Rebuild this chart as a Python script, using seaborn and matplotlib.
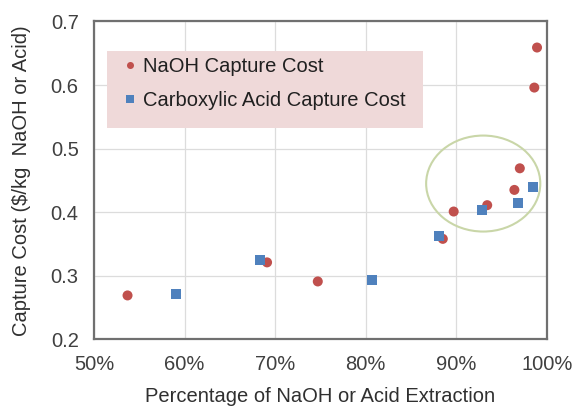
import matplotlib
matplotlib.use("Agg")
import matplotlib.pyplot as plt
from matplotlib.patches import Ellipse, Rectangle
from matplotlib.ticker import FuncFormatter
import seaborn as sns
import pandas as pd

# Extraction percentage and capture cost ($/kg) for each process
naoh_extraction = [53.7, 69.1, 74.7, 88.5, 89.7, 93.4, 96.4, 97.0, 98.6, 98.9]
naoh_cost = [0.269, 0.321, 0.291, 0.358, 0.401, 0.411, 0.435, 0.469, 0.596, 0.659]

acid_extraction = [59.1, 68.3, 80.7, 88.1, 92.8, 96.8, 98.5]
acid_cost = [0.272, 0.324, 0.294, 0.362, 0.403, 0.414, 0.439]

series_names = ["NaOH Capture Cost", "Carboxylic Acid Capture Cost"]
x_ticks = [50, 60, 70, 80, 90, 100]
y_ticks = [0.2, 0.3, 0.4, 0.5, 0.6, 0.7]

df = pd.concat([
    pd.DataFrame({"extraction": naoh_extraction, "cost": naoh_cost, "series": series_names[0]}),
    pd.DataFrame({"extraction": acid_extraction, "cost": acid_cost, "series": series_names[1]}),
], ignore_index=True)

sns.set_theme(style="white")
plt.rcParams["font.family"] = ["Liberation Sans", "DejaVu Sans"]
FS = 14.5

fig = plt.figure(figsize=(5.75, 4.08), dpi=100)
ax = fig.add_axes([0.1635, 0.1684, 0.7878, 0.779])

palette = {series_names[0]: "#C0504D", series_names[1]: "#4F81BD"}
markers = {series_names[0]: "o", series_names[1]: "s"}
sns.scatterplot(data=df, x="extraction", y="cost", hue="series", style="series",
                palette=palette, markers=markers, s=52, linewidth=0,
                ax=ax, zorder=3)

ax.set_xlim(50, 100)
ax.set_ylim(0.2, 0.7)
ax.set_xticks(x_ticks)
ax.set_yticks(y_ticks)
ax.xaxis.set_major_formatter(FuncFormatter(lambda v, p: f"{v:.0f}%"))
ax.yaxis.set_major_formatter(FuncFormatter(lambda v, p: f"{v:.1f}"))
ax.grid(True, color="#dcdcdc", linewidth=0.9)
ax.set_axisbelow(True)
for sp in ax.spines.values():
    sp.set_color("#707070")
    sp.set_linewidth(1.6)

ax.tick_params(axis="both", labelsize=FS, colors="#404040", length=0, pad=11)
ax.set_xlabel("Percentage of NaOH or Acid Extraction", fontsize=FS, color="#303030", labelpad=10)
ax.set_ylabel("Capture Cost ($/kg  NaOH or Acid)", fontsize=FS, color="#303030", labelpad=14)

# highlight of the high-extraction cluster
ax.add_patch(Ellipse((92.96, 0.445), 12.6, 0.151, fill=False,
                     edgecolor="#c9d6a8", linewidth=1.5, zorder=2))

# pink legend panel
ax.add_patch(Rectangle((0.0287, 0.665), 0.698, 0.242, transform=ax.transAxes,
                       facecolor="#efd9d9", edgecolor="none", zorder=1))
leg = ax.legend(loc="upper left", bbox_to_anchor=(0.057, 0.889),
                fontsize=FS, frameon=False,
                handletextpad=0.15, handlelength=1.0, markerscale=0.7,
                borderpad=0, labelspacing=0.78, borderaxespad=0)
for t in leg.get_texts():
    t.set_color("#202020")

fig.savefig("out.png", dpi=100)
